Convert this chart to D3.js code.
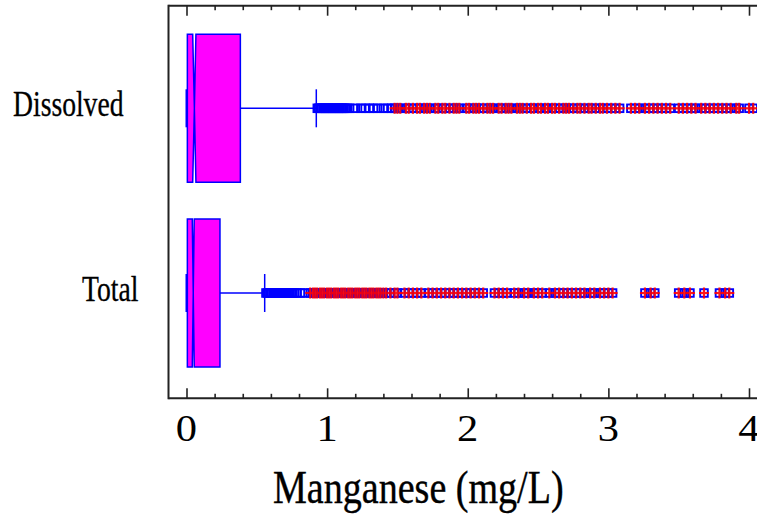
<!DOCTYPE html>
<html><head><meta charset="utf-8">
<script src="https://cdn.jsdelivr.net/npm/d3@7"></script>
<style>html,body{margin:0;padding:0;background:#fff;overflow:hidden}</style>
</head><body>
<svg id="chart" width="757" height="514"></svg>
<script>
// ---- data ----
const categories = ["Dissolved", "Total"];
const whiskerLo = [0, 0];
const q1 = [0.006, 0.006];
const notchLo = [0.044, 0.041];
const medians = [0.056, 0.048];
const notchHi = [0.067, 0.055];
const q3 = [0.383, 0.238];
const whiskerHi = [0.923, 0.556];

const dissolvedOutside = [0.93,0.94,0.95,0.96,0.97,0.98,0.99,1.00,1.01,1.02,1.03,1.04,1.05,1.06,1.07,1.08,1.09,1.10,1.11,1.12,1.13,1.14,
  1.16,1.20,1.24,1.27,1.30,1.33,1.36,1.40,1.43,1.46];
const dissolvedFarOutside = [1.48,1.50,1.52,1.56,1.58,1.61,1.64,1.66,1.69,1.71,1.73,1.77,1.79,1.82,1.84,1.87,1.90,1.92,1.94,1.99,2.01,2.04,2.06,2.08,
  2.11,2.14,2.16,2.18,2.22,2.24,2.27,2.29,2.31,2.35,2.37,2.39,2.42,2.45,2.47,2.50,2.52,2.55,2.57,2.60,2.62,2.65,2.68,2.70,2.72,2.75,2.78,2.80,
  2.83,2.86,2.88,2.91,2.94,2.96,2.99,3.02,3.05,3.08,
  3.16,3.19,3.22,3.26,3.29,3.32,3.35,3.38,3.41,3.44,
  3.50,3.53,3.56,3.59,3.62,
  3.66,3.69,3.72,3.75,3.78,3.81,3.84,3.87,3.91,3.93,
  4.00,4.03];
const totalOutside = [0.565,0.575,0.585,0.595,0.605,0.615,0.625,0.635,0.645,0.655,0.665,0.675,0.685,0.695,0.705,0.715,0.725,0.735,0.745,0.755,0.77,0.785,
  0.81,0.84];
const totalFarOutside = [0.88,0.90,0.915,0.93,0.95,0.965,0.98,1.00,1.015,1.03,1.05,1.065,1.08,1.10,1.115,1.13,1.15,1.165,1.18,1.20,1.215,1.23,1.25,
  1.265,1.28,1.30,1.315,1.33,1.35,1.365,1.38,1.40,1.42,1.45,1.48,1.50,
  1.55,1.58,1.61,1.64,1.67,1.72,1.75,1.78,1.81,1.84,1.87,1.90,1.93,1.96,1.99,2.02,2.05,2.08,2.11,
  2.19,2.22,2.25,2.28,2.33,2.36,2.40,2.43,2.47,2.50,2.53,2.58,2.62,2.65,2.68,2.71,2.74,2.77,2.80,2.83,2.87,2.90,2.94,2.97,3.00,3.03,
  3.26,3.30,3.33,3.50,3.54,3.58,3.68,3.79,3.83,3.86];
const xTickLabels = ["0", "1", "2", "3", "4"];
const axisTitle = "Manganese (mg/L)";

const outliers = [
  {cat: "Dissolved", outside: dissolvedOutside, far: dissolvedFarOutside},
  {cat: "Total", outside: totalOutside, far: totalFarOutside}
];

// ---- layout ----
const svg = d3.select("#chart");
const pLeft = 168.5, pTop = 5.7, pBottom = 398.3, pRight = 760;
const x = d3.scaleLinear().domain([0, 4]).range([186.5, 749]);
const y = d3.scalePoint().domain(categories).range([108.3, 293]);
const boxHalf = 74, capHalf = 19;
const BLUE = "#0000ff", MAG = "#ff00ff";
const serif = "'Liberation Serif', 'Times New Roman', serif";

// frame
const frame = svg.append("g").attr("stroke", "#222").attr("stroke-width", 2).attr("fill", "none");
frame.append("line").attr("x1", pLeft).attr("x2", pLeft).attr("y1", pTop - 1).attr("y2", pBottom + 1);
frame.append("line").attr("x1", pLeft).attr("x2", pRight).attr("y1", pTop).attr("y2", pTop);
frame.append("line").attr("x1", pLeft).attr("x2", pRight).attr("y1", pBottom).attr("y2", pBottom);

const majorVals = xTickLabels.map(Number);
const minorVals = d3.range(0, 4.001, 0.2).filter(v => Math.abs(v - Math.round(v)) > 1e-6);

function drawAxis(gen, ty) {
  const g = svg.append("g").attr("transform", `translate(0,${ty})`).call(gen);
  g.select(".domain").remove();
  g.selectAll("line").attr("stroke", "#222").attr("stroke-width", 1.6);
  g.selectAll("text").remove();
}
drawAxis(d3.axisBottom(x).tickValues(majorVals).tickSize(-10), pBottom);
drawAxis(d3.axisBottom(x).tickValues(minorVals).tickSize(-4.5), pBottom);
drawAxis(d3.axisTop(x).tickValues(majorVals).tickSize(-10), pTop);
drawAxis(d3.axisTop(x).tickValues(minorVals).tickSize(-4.5), pTop);

// tick labels
svg.append("g").selectAll("text").data(xTickLabels).join("text")
  .attr("transform", d => `translate(${x(+d)},440.5) scale(1.12,1)`)
  .attr("text-anchor", "middle")
  .attr("font-family", serif).attr("font-size", 38).attr("fill", "#000")
  .text(d => d);

// category labels
const catX = {"Dissolved": 13, "Total": 82};
svg.append("g").selectAll("text").data(categories).join("text")
  .attr("transform", d => `translate(${catX[d]},${y(d) + 7.8}) scale(0.79,1)`)
  .attr("font-family", serif).attr("font-size", 35).attr("fill", "#000")
  .attr("stroke", "#000").attr("stroke-width", 0.3)
  .text(d => d);

// axis title
svg.append("text")
  .attr("transform", "translate(273,503) scale(0.81,1)")
  .attr("font-family", serif).attr("font-size", 47).attr("fill", "#000")
  .attr("stroke", "#000").attr("stroke-width", 0.4)
  .text(axisTitle);

// boxes
categories.forEach((c, i) => {
  const cy = y(c), t = cy - boxHalf, b = cy + boxHalf;
  const g = svg.append("g");
  g.append("line").attr("x1", x(q3[i])).attr("x2", x(whiskerHi[i])).attr("y1", cy).attr("y2", cy)
    .attr("stroke", BLUE).attr("stroke-width", 1.5);
  g.append("line").attr("x1", x(whiskerLo[i])).attr("x2", x(q1[i])).attr("y1", cy).attr("y2", cy)
    .attr("stroke", BLUE).attr("stroke-width", 1.5);
  g.append("line").attr("x1", x(whiskerHi[i])).attr("x2", x(whiskerHi[i])).attr("y1", cy - capHalf).attr("y2", cy + capHalf)
    .attr("stroke", BLUE).attr("stroke-width", 1.5);
  g.append("line").attr("x1", x(whiskerLo[i])).attr("x2", x(whiskerLo[i])).attr("y1", cy - capHalf).attr("y2", cy + capHalf)
    .attr("stroke", BLUE).attr("stroke-width", 2);
  const pts = [
    [x(q1[i]), t], [x(notchLo[i]), t], [x(medians[i]), cy], [x(notchHi[i]), t], [x(q3[i]), t],
    [x(q3[i]), b], [x(notchHi[i]), b], [x(medians[i]), cy], [x(notchLo[i]), b], [x(q1[i]), b]
  ];
  g.append("path").attr("d", d3.line()(pts) + "Z")
    .attr("fill", MAG).attr("stroke", BLUE).attr("stroke-width", 1.5).attr("stroke-linejoin", "miter");
});

// outliers: squares for all, then red crosses on top for far-outside points
outliers.forEach(o => {
  const cy = y(o.cat);
  const all = o.outside.concat(o.far);
  const g = svg.append("g");
  g.selectAll("rect").data(all).join("rect")
    .attr("x", d => x(d) - 3.8).attr("y", cy - 3.8).attr("width", 7.6).attr("height", 7.6)
    .attr("fill", "none").attr("stroke", BLUE).attr("stroke-width", 1.9);
  const gc = svg.append("g").attr("stroke", "#ff0000").attr("stroke-width", 2.2).attr("opacity", 0.9);
  gc.selectAll("line.v").data(o.far).join("line").attr("class", "v")
    .attr("x1", d => x(d)).attr("x2", d => x(d)).attr("y1", cy - 5.5).attr("y2", cy + 5.5);
  gc.selectAll("line.h").data(o.far).join("line").attr("class", "h")
    .attr("x1", d => x(d) - 5).attr("x2", d => x(d) + 5).attr("y1", cy).attr("y2", cy);
});
</script>
</body></html>
